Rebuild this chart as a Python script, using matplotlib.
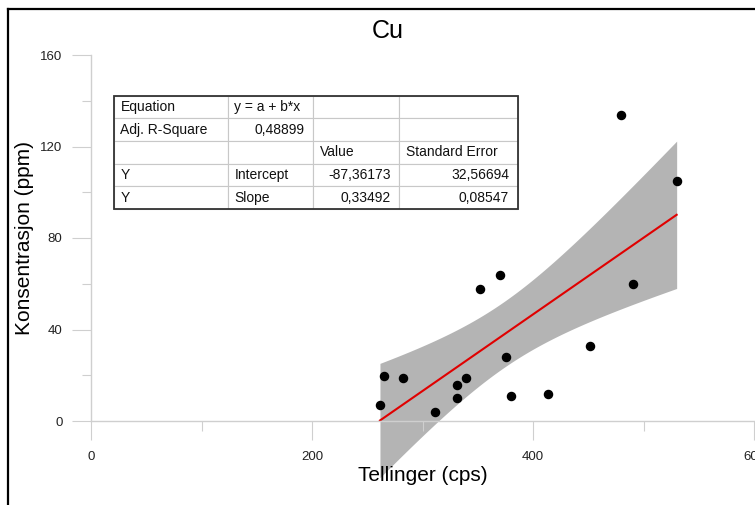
import matplotlib
matplotlib.use('Agg')
import matplotlib.pyplot as plt
from matplotlib.lines import Line2D
from matplotlib.patches import Rectangle
import numpy as np

plt.rcParams['font.family'] = ['Liberation Sans', 'DejaVu Sans']

# Data
tellinger = [261.5, 265, 282, 311.6, 331, 331, 339, 351.7, 370.4, 376,
             380, 414, 452, 480, 490.5, 530]
konsentrasjon = [7.0, 19.8, 18.9, 3.8, 15.9, 9.9, 18.9, 57.8, 63.8, 28.0,
                 10.9, 11.8, 32.8, 133.6, 59.8, 104.8]

# Fit results from the table in the chart
intercept = -87.36173
slope = 0.33492
se_intercept = 32.56694
se_slope = 0.08547
adj_r2 = 0.48899
t_crit = 2.145  # t(0.975, df=14)

table_rows = [
    ["Equation", "y = a + b*x", "", ""],
    ["Adj. R-Square", "0,48899", "", ""],
    ["", "", "Value", "Standard Error"],
    ["Y", "Intercept", "-87,36173", "32,56694"],
    ["Y", "Slope", "0,33492", "0,08547"],
]
right_aligned = {(1, 1), (3, 2), (3, 3), (4, 2), (4, 3)}

x = np.array(tellinger)
y = np.array(konsentrasjon)

# Regression line and 95% confidence band
xs = np.linspace(x.min(), x.max(), 200)
fit = intercept + slope * xs
xbar = x.mean()
se_fit = np.sqrt(se_intercept**2 - 2 * xs * xbar * se_slope**2 + xs**2 * se_slope**2)
lower = fit - t_crit * se_fit
upper = fit + t_crit * se_fit

fig = plt.figure(figsize=(7.55, 5.05), dpi=100)
ax = fig.add_axes([91 / 755, 84 / 505, 663 / 755, 366 / 505])

ax.fill_between(xs, lower, upper, color='#b4b4b4', linewidth=0, clip_on=False, zorder=1)
ax.plot(xs, fit, color='#e00000', linewidth=1.5, zorder=2)
ax.scatter(x, y, s=34, color='black', zorder=3, clip_on=False)

ax.set_xlim(0, 600)
ax.set_ylim(0, 160)
ax.set_xticks([0, 200, 400, 600])
ax.set_xticks([100, 300, 500], minor=True)
ax.set_yticks([0, 40, 80, 120, 160])
ax.set_yticks([20, 60, 100, 140], minor=True)

axis_grey = '#cfcfcf'
for side in ['top', 'right']:
    ax.spines[side].set_visible(False)
for side in ['left', 'bottom']:
    ax.spines[side].set_color(axis_grey)
    ax.spines[side].set_linewidth(1)
ax.tick_params(axis='both', which='major', length=13.5, width=0.8, color=axis_grey,
               labelsize=9.5, labelcolor='#222222')
ax.tick_params(axis='x', which='major', pad=8)
ax.tick_params(axis='y', which='major', pad=7)
ax.tick_params(axis='y', which='minor', length=6.5, width=0.8, color=axis_grey)
ax.tick_params(axis='x', which='minor', length=7, width=0.8, color=axis_grey)

ax.set_xlabel("Tellinger (cps)", fontsize=15)
ax.set_ylabel("Konsentrasjon (ppm)", fontsize=15)
ax.xaxis.set_label_coords(0.5, -0.123)
ax.yaxis.set_label_coords(-0.086, 0.5)

fig.text(388 / 755, 1 - 31 / 505, "Cu", fontsize=18, ha='center', va='center')

# Results table
tx0, tx1 = (114 - 91) / 663, (517.7 - 91) / 663
ty0, ty1 = (421 - 209) / 366, (421 - 95.7) / 366
col_px = [114, 85, 86, 118.7]
tbl = ax.table(cellText=table_rows, colWidths=[c / sum(col_px) for c in col_px],
               cellLoc='left', bbox=[tx0, ty0, tx1 - tx0, ty1 - ty0])
tbl.auto_set_font_size(False)
tbl.set_fontsize(10)
for (r, c), cell in tbl.get_celld().items():
    cell.set_edgecolor('#c8c8c8')
    cell.set_linewidth(0.8)
    if (r, c) in right_aligned:
        cell.get_text().set_horizontalalignment('right')
        cell.PAD = 8.5 / col_px[c]
    else:
        cell.PAD = 6.5 / col_px[c]
    cell.get_text().set_color('#111111')
ax.add_patch(Rectangle((tx0, ty0), tx1 - tx0, ty1 - ty0, transform=ax.transAxes,
                       fill=False, edgecolor='#333333', linewidth=1.3, zorder=5))

# Frame around the figure (only left and top sides are visible in the original)
fig.add_artist(Line2D([8 / 755, 8 / 755], [0, 1 - 9 / 505], color='black', linewidth=1.6))
fig.add_artist(Line2D([8 / 755, 1], [1 - 9 / 505, 1 - 9 / 505], color='black', linewidth=1.6))

fig.savefig('out.png', dpi=100)
plt.close(fig)
